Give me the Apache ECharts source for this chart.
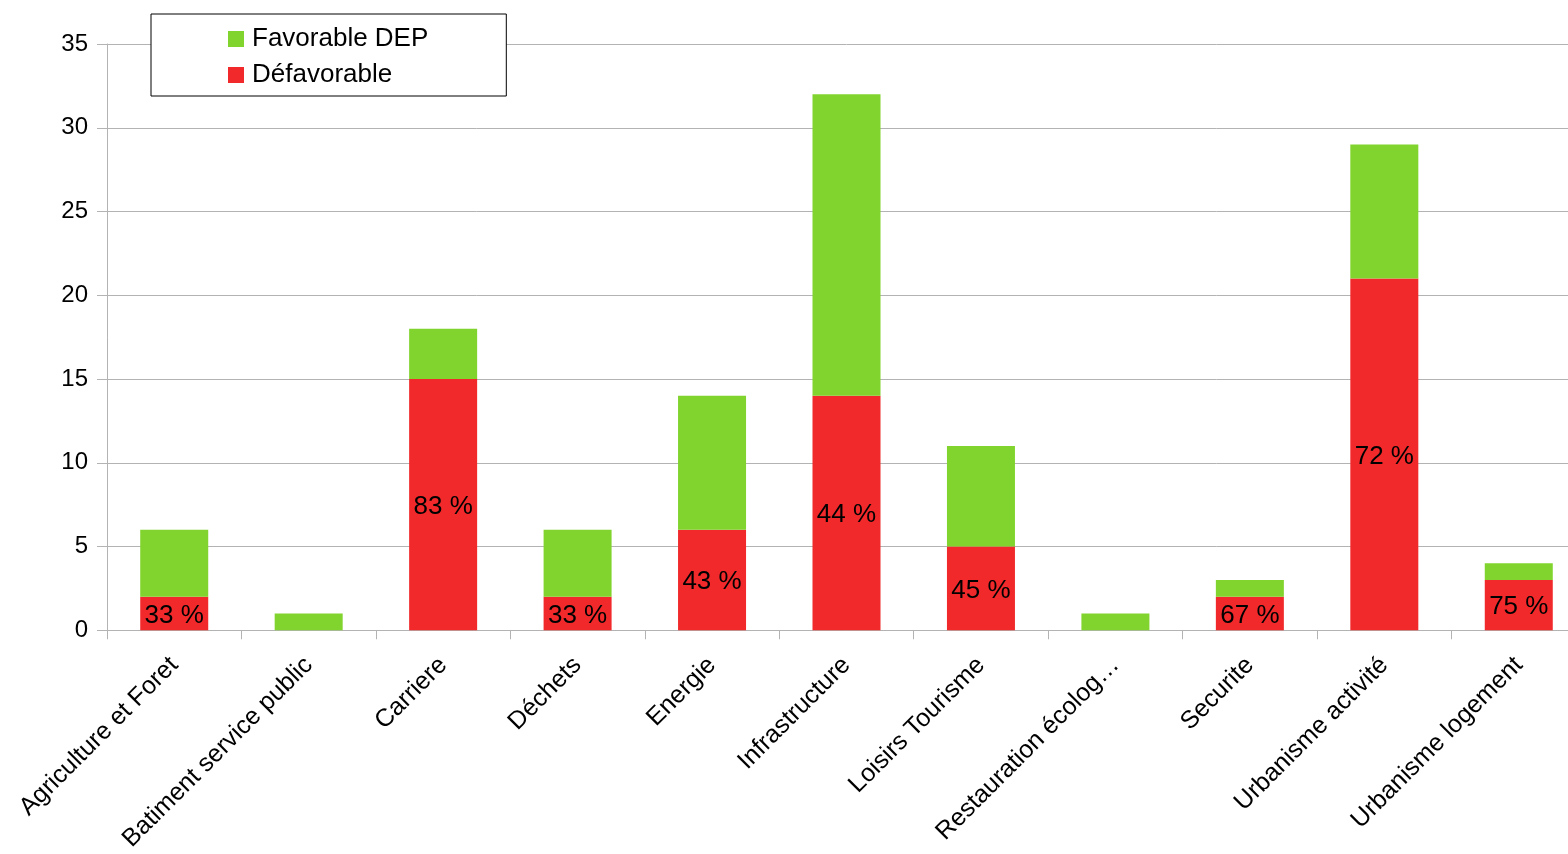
<!DOCTYPE html>
<html>
<head>
<meta charset="utf-8">
<script src="https://cdn.jsdelivr.net/npm/echarts@6/dist/echarts.min.js"></script>
<style>html,body{margin:0;padding:0;background:#fff;overflow:hidden;width:1568px;height:854px;}#c{width:1586px;height:854px;}</style>
</head>
<body>
<div id="c"></div>
<script>
var categories = ['Agriculture et Foret','Batiment service public','Carriere','Déchets','Energie','Infrastructure','Loisirs Tourisme','Restauration écolog…','Securite','Urbanisme activité','Urbanisme logement'];
var defavorable = [2, 0, 15, 2, 6, 14, 5, 0, 2, 21, 3];
var favorable = [4, 1, 3, 4, 8, 18, 6, 1, 1, 8, 1];
var yTicks = [0, 5, 10, 15, 20, 25, 30, 35];

var chart = echarts.init(document.getElementById('c'));
var font = 'Liberation Sans';
chart.setOption({
  animation: false,
  backgroundColor: '#fff',
  textStyle: { fontFamily: font },
  legend: {
    orient: 'vertical',
    left: 151, top: 14,
    data: ['Favorable DEP', 'Défavorable'],
    icon: 'rect',
    itemWidth: 16, itemHeight: 16,
    itemGap: 10,
    padding: [12, 78, 8, 77],
    borderColor: '#000', borderWidth: 1,
    backgroundColor: '#fff',
    textStyle: { fontSize: 26, color: '#000', fontFamily: font, lineHeight: 26, padding: [0, 0, 0, 3] },
    z: 10
  },
  grid: { left: 107, right: 0, top: 44, bottom: 223, containLabel: false },
  xAxis: {
    type: 'category',
    data: categories,
    axisLine: { lineStyle: { color: '#b3b3b3', width: 1 } },
    axisTick: { show: true, length: 9, lineStyle: { color: '#b3b3b3' } },
    axisLabel: { rotate: 45, fontSize: 25, color: '#000', margin: 31, fontFamily: font, interval: 0 }
  },
  yAxis: {
    type: 'value',
    min: 0, max: 35, interval: 5,
    axisLine: { show: true, lineStyle: { color: '#b3b3b3' } },
    axisTick: { show: true, length: 10, lineStyle: { color: '#b3b3b3' } },
    splitLine: { lineStyle: { color: '#b3b3b3' } },
    axisLabel: { fontSize: 24, color: '#000', margin: 19, fontFamily: font,
      formatter: function (v) { return yTicks.indexOf(v) >= 0 ? String(v) : ''; } }
  },
  series: [
    {
      name: 'Défavorable', type: 'bar', stack: 'total', data: defavorable,
      barWidth: 68,
      itemStyle: { color: '#f1292b' },
      label: {
        show: true, position: 'inside', offset: [0, 2], fontSize: 26, color: '#000', fontFamily: font,
        formatter: function (p) {
          var r = defavorable[p.dataIndex], t = r + favorable[p.dataIndex];
          if (!r) return '';
          return Math.round(r / t * 100) + ' %';
        }
      }
    },
    {
      name: 'Favorable DEP', type: 'bar', stack: 'total', data: favorable,
      barWidth: 68,
      itemStyle: { color: '#81d42d' }
    }
  ]
});
</script>
</body>
</html>
